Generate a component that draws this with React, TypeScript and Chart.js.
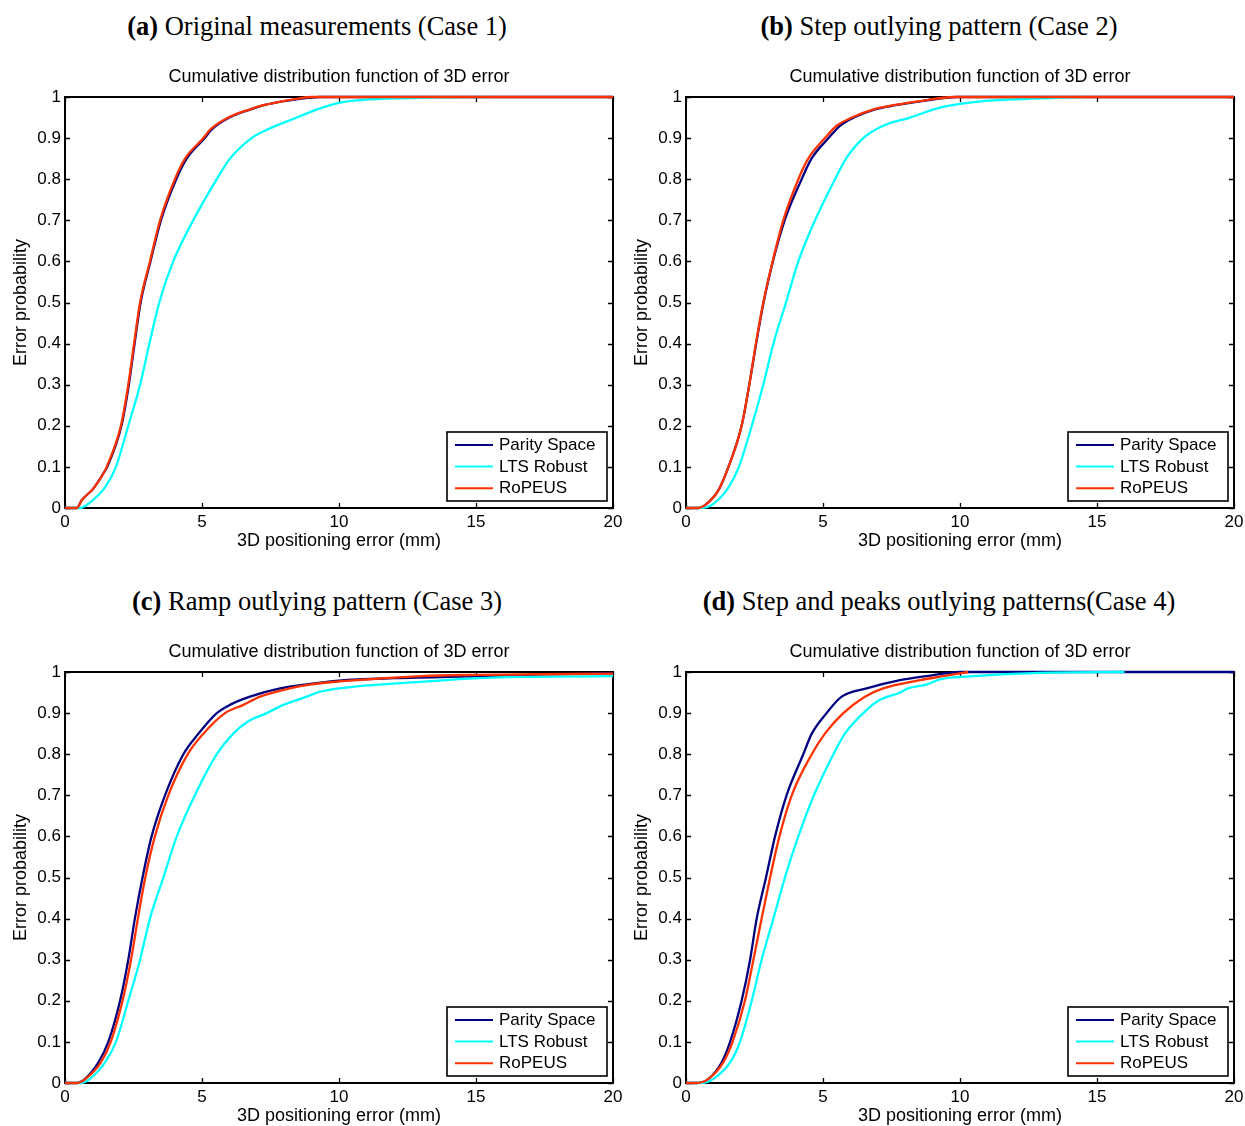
import React, { useEffect, useRef } from "react";
import { Chart, registerables } from "chart.js";

Chart.register(...registerables);

type Pt = [number, number];

// ---------- text ----------
const PANEL_LETTERS = ["(a)", "(b)", "(c)", "(d)"];
const PANEL_CAPTIONS = [
  " Original measurements (Case 1)",
  " Step outlying pattern (Case 2)",
  " Ramp outlying pattern (Case 3)",
  " Step and peaks outlying patterns(Case 4)",
];
const PLOT_TITLE = "Cumulative distribution function of 3D error";
const X_LABEL = "3D positioning error (mm)";
const Y_LABEL = "Error probability";
const SERIES_LABELS = ["Parity Space", "LTS Robust", "RoPEUS"];
const SERIES_COLORS = ["#000080", "#00FFFF", "#FF3300"];

// ---------- ticks ----------
const X_TICKS = [0, 5, 10, 15, 20];
const Y_TICKS = [0, 0.1, 0.2, 0.3, 0.4, 0.5, 0.6, 0.7, 0.8, 0.9, 1];

// ---------- data: [error (mm), cumulative probability] ----------
const case1Parity: Pt[] = [[0, 0], [0.43, 0], [0.61, 0.019], [1.03, 0.047], [1.4, 0.084], [1.54, 0.1], [2.06, 0.2], [2.33, 0.3], [2.54, 0.4], [2.76, 0.5], [3.12, 0.6], [3.5, 0.7], [4.06, 0.8], [4.44, 0.85], [5.1, 0.9], [5.34, 0.92], [6.0, 0.95], [6.78, 0.97], [7.26, 0.98], [8.0, 0.99], [8.5, 0.995], [9.3, 1], [20, 1]];
const case1Lts: Pt[] = [[0, 0], [0.55, 0], [1.03, 0.02], [1.46, 0.05], [1.86, 0.1], [2.31, 0.2], [2.74, 0.3], [3.08, 0.4], [3.44, 0.5], [3.95, 0.6], [4.68, 0.7], [5.54, 0.8], [6.02, 0.85], [6.81, 0.9], [7.36, 0.92], [8.46, 0.95], [9.2, 0.97], [10.0, 0.986], [11.1, 0.994], [13.0, 0.998], [15.5, 1]];
const case1Ropeus: Pt[] = [[0, 0], [0.43, 0], [0.61, 0.019], [1.03, 0.047], [1.4, 0.084], [1.52, 0.1], [2.04, 0.2], [2.31, 0.3], [2.52, 0.4], [2.74, 0.5], [3.1, 0.6], [3.47, 0.7], [4.01, 0.8], [4.38, 0.85], [5.05, 0.9], [5.29, 0.92], [5.96, 0.95], [6.75, 0.97], [7.24, 0.98], [7.97, 0.99], [8.4, 0.995], [9.0, 1], [20, 1]];

const case2Parity: Pt[] = [[0, 0], [0.45, 0], [0.75, 0.01], [1.18, 0.043], [1.55, 0.1], [2.03, 0.2], [2.31, 0.3], [2.56, 0.4], [2.83, 0.5], [3.17, 0.6], [3.6, 0.7], [4.22, 0.8], [4.58, 0.85], [5.2, 0.9], [5.62, 0.93], [6.12, 0.95], [6.9, 0.97], [7.65, 0.98], [8.6, 0.99], [9.9, 1], [20, 1]];
const case2Lts: Pt[] = [[0, 0], [0.57, 0], [1.0, 0.01], [1.55, 0.05], [1.93, 0.1], [2.4, 0.2], [2.82, 0.3], [3.19, 0.4], [3.65, 0.5], [4.1, 0.6], [4.71, 0.7], [5.44, 0.8], [5.84, 0.85], [6.47, 0.9], [7.2, 0.93], [8.18, 0.95], [9.3, 0.975], [10.7, 0.989], [12.3, 0.995], [14.5, 1]];
const case2Ropeus: Pt[] = [[0, 0], [0.45, 0], [0.75, 0.01], [1.18, 0.043], [1.55, 0.1], [2.03, 0.2], [2.31, 0.3], [2.55, 0.4], [2.82, 0.5], [3.16, 0.6], [3.55, 0.7], [4.1, 0.8], [4.46, 0.85], [5.07, 0.9], [5.5, 0.93], [6.05, 0.95], [6.84, 0.97], [7.57, 0.98], [8.54, 0.99], [9.76, 1], [20, 1]];

const case3Parity: Pt[] = [[0, 0], [0.43, 0], [0.73, 0.01], [1.22, 0.05], [1.58, 0.1], [2.01, 0.2], [2.31, 0.3], [2.55, 0.4], [2.83, 0.5], [3.16, 0.6], [3.65, 0.7], [4.32, 0.8], [4.87, 0.85], [5.54, 0.9], [6.02, 0.92], [6.75, 0.94], [7.85, 0.96], [8.82, 0.97], [10, 0.979], [12, 0.985], [15.1, 0.99], [17.5, 0.994], [20, 0.997]];
const case3Lts: Pt[] = [[0, 0], [0.6, 0], [0.91, 0.01], [1.46, 0.05], [1.86, 0.1], [2.31, 0.2], [2.74, 0.3], [3.1, 0.4], [3.59, 0.5], [4.08, 0.6], [4.74, 0.7], [5.54, 0.8], [6.14, 0.85], [6.69, 0.88], [7.36, 0.9], [7.97, 0.92], [8.82, 0.94], [9.31, 0.952], [10.5, 0.964], [12.96, 0.976], [15.1, 0.985], [16.6, 0.988], [20, 0.99]];
const case3Ropeus: Pt[] = [[0, 0], [0.45, 0], [0.75, 0.01], [1.31, 0.05], [1.67, 0.1], [2.1, 0.2], [2.41, 0.3], [2.66, 0.4], [2.93, 0.5], [3.28, 0.6], [3.77, 0.7], [4.48, 0.8], [5.05, 0.85], [5.84, 0.9], [6.51, 0.92], [7.12, 0.94], [8.2, 0.96], [9.0, 0.97], [10, 0.977], [13, 0.99], [15, 0.993], [20, 0.996]];

const case4Parity: Pt[] = [[0, 0], [0.39, 0], [0.82, 0.01], [1.3, 0.05], [1.61, 0.1], [2.03, 0.2], [2.34, 0.3], [2.58, 0.4], [2.92, 0.5], [3.25, 0.6], [3.67, 0.7], [4.28, 0.8], [4.59, 0.85], [5.13, 0.9], [5.68, 0.94], [6.59, 0.96], [7.81, 0.98], [8.78, 0.99], [10, 1], [20, 1]];
const case4Lts: Pt[] = [[0, 0], [0.57, 0], [1.0, 0.01], [1.61, 0.05], [1.97, 0.1], [2.4, 0.2], [2.76, 0.3], [3.19, 0.4], [3.61, 0.5], [4.1, 0.6], [4.67, 0.7], [5.38, 0.8], [5.8, 0.85], [6.47, 0.9], [7.02, 0.93], [7.81, 0.95], [8.1, 0.96], [8.8, 0.97], [9.27, 0.982], [10.5, 0.99], [12.9, 0.998], [16, 1]];
const case4Ropeus: Pt[] = [[0, 0], [0.39, 0], [0.82, 0.01], [1.36, 0.05], [1.7, 0.1], [2.15, 0.2], [2.46, 0.3], [2.76, 0.4], [3.07, 0.5], [3.41, 0.6], [3.86, 0.7], [4.59, 0.8], [5.07, 0.85], [5.74, 0.9], [6.53, 0.94], [7.2, 0.96], [8.54, 0.98], [9.39, 0.99], [10.3, 1]];

const SANS = '"Liberation Sans", Arial, Helvetica, sans-serif';

const matlabFrame = {
  id: "matlabFrame",
  beforeDatasetsDraw(chart: any) {
    const { ctx, chartArea: a, scales } = chart;
    const xs = scales.x;
    const ys = scales.y;
    ctx.save();
    ctx.strokeStyle = "#000";
    ctx.lineWidth = 1.3;
    ctx.beginPath();
    for (const t of xs.ticks) {
      const px = Math.round(xs.getPixelForValue(t.value)) + 0.5;
      ctx.moveTo(px, a.bottom);
      ctx.lineTo(px, a.bottom - 5);
      ctx.moveTo(px, a.top);
      ctx.lineTo(px, a.top + 5);
    }
    for (const t of ys.ticks) {
      const py = Math.round(ys.getPixelForValue(t.value)) + 0.5;
      ctx.moveTo(a.left, py);
      ctx.lineTo(a.left + 5, py);
      ctx.moveTo(a.right, py);
      ctx.lineTo(a.right - 5, py);
    }
    ctx.stroke();
    ctx.lineWidth = 2;
    ctx.strokeRect(a.left, a.top, a.right - a.left, a.bottom - a.top);
    ctx.restore();
  },
  afterDatasetsDraw(chart: any) {
    const { ctx, chartArea: a } = chart;
    const w = 160;
    const h = 69;
    const right = a.right - 6;
    const bottom = a.bottom - 7;
    const left = right - w;
    const top = bottom - h;
    ctx.save();
    ctx.fillStyle = "#fff";
    ctx.fillRect(left, top, w, h);
    ctx.strokeStyle = "#000";
    ctx.lineWidth = 1.6;
    ctx.strokeRect(left, top, w, h);
    ctx.font = `17px ${SANS}`;
    ctx.textBaseline = "middle";
    ctx.textAlign = "left";
    chart.data.datasets.forEach((ds: any, i: number) => {
      const y = top + 13 + i * 21.6;
      ctx.strokeStyle = ds.borderColor;
      ctx.lineWidth = 2;
      ctx.beginPath();
      ctx.moveTo(left + 8, y);
      ctx.lineTo(left + 46, y);
      ctx.stroke();
      ctx.fillStyle = "#000";
      ctx.fillText(ds.label, left + 52, y + 0.5);
    });
    ctx.restore();
  },
};

function Panel(props: { left: number; top: number; series: Pt[][] }) {
  const ref = useRef<HTMLCanvasElement | null>(null);
  useEffect(() => {
    const canvas = ref.current;
    if (!canvas) return;
    const chart = new Chart(canvas, {
      type: "scatter",
      data: {
        datasets: props.series.map((pts, i) => ({
          label: SERIES_LABELS[i],
          data: pts.map(([x, y]) => ({ x, y })),
          showLine: true,
          borderColor: SERIES_COLORS[i],
          backgroundColor: SERIES_COLORS[i],
          borderWidth: 2.3,
          pointRadius: 0,
          pointHoverRadius: 0,
          cubicInterpolationMode: "monotone",
          order: 3 - i,
          clip: false,
        })),
      },
      options: {
        animation: false,
        responsive: false,
        devicePixelRatio: 1,
        events: [],
        layout: { padding: { left: 0, right: 16, top: 0, bottom: 0 } },
        plugins: {
          legend: { display: false },
          tooltip: { enabled: false },
          title: {
            display: true,
            text: PLOT_TITLE,
            fullSize: false,
            color: "#000",
            font: { family: SANS, size: 18, weight: "normal" },
            padding: { top: 6.2, bottom: 9.2 },
          },
        },
        scales: {
          x: {
            type: "linear",
            min: 0,
            max: 20,
            afterBuildTicks: (s: any) => {
              s.ticks = X_TICKS.map((v) => ({ value: v }));
            },
            afterFit: (s: any) => {
              s.height = 52;
            },
            grid: { display: false, drawTicks: false },
            border: { display: false },
            ticks: {
              padding: 4,
              color: "#000",
              autoSkip: false,
              maxRotation: 0,
              font: { family: SANS, size: 17 },
              callback: (v: any) => String(v),
            },
            title: {
              display: true,
              text: X_LABEL,
              color: "#000",
              font: { family: SANS, size: 18 },
              padding: { top: 0, bottom: 7.7 },
            },
          },
          y: {
            type: "linear",
            min: 0,
            max: 1,
            afterBuildTicks: (s: any) => {
              s.ticks = Y_TICKS.map((v) => ({ value: v }));
            },
            afterFit: (s: any) => {
              s.width = 65;
            },
            grid: { display: false, drawTicks: false },
            border: { display: false },
            ticks: {
              padding: 4,
              color: "#000",
              autoSkip: false,
              font: { family: SANS, size: 17 },
              callback: (v: any) => String(Math.round(Number(v) * 10) / 10),
            },
            title: {
              display: true,
              text: Y_LABEL,
              color: "#000",
              font: { family: SANS, size: 18 },
              padding: { top: 10, bottom: 0 },
            },
          },
        },
      } as any,
      plugins: [matlabFrame as any],
    });
    return () => chart.destroy();
  }, []);
  return (
    <canvas
      ref={ref}
      width={629}
      height={500}
      style={{ position: "absolute", left: props.left, top: props.top, width: 629, height: 500 }}
    />
  );
}

function Caption(props: { cx: number; baseline: number; index: number }) {
  return (
    <div
      style={{
        position: "absolute",
        left: props.cx - 320,
        width: 640,
        top: props.baseline - 22.2,
        textAlign: "center",
        fontFamily: '"Liberation Serif", "Times New Roman", serif',
        fontSize: 26.5,
        lineHeight: "26.5px",
        color: "#000",
        whiteSpace: "nowrap",
      }}
    >
      <b>{PANEL_LETTERS[props.index]}</b>
      {PANEL_CAPTIONS[props.index]}
    </div>
  );
}

export default function App() {
  return (
    <div
      style={{
        position: "absolute",
        left: 0,
        top: 0,
        width: 1245,
        height: 1126,
        overflow: "hidden",
        background: "#fff",
      }}
    >
      <Caption cx={317} baseline={35} index={0} />
      <Caption cx={939} baseline={35} index={1} />
      <Caption cx={317} baseline={610} index={2} />
      <Caption cx={939} baseline={610} index={3} />
      <Panel left={0} top={60} series={[case1Parity, case1Lts, case1Ropeus]} />
      <Panel left={621} top={60} series={[case2Parity, case2Lts, case2Ropeus]} />
      <Panel left={0} top={635} series={[case3Parity, case3Lts, case3Ropeus]} />
      <Panel left={621} top={635} series={[case4Parity, case4Lts, case4Ropeus]} />
    </div>
  );
}
